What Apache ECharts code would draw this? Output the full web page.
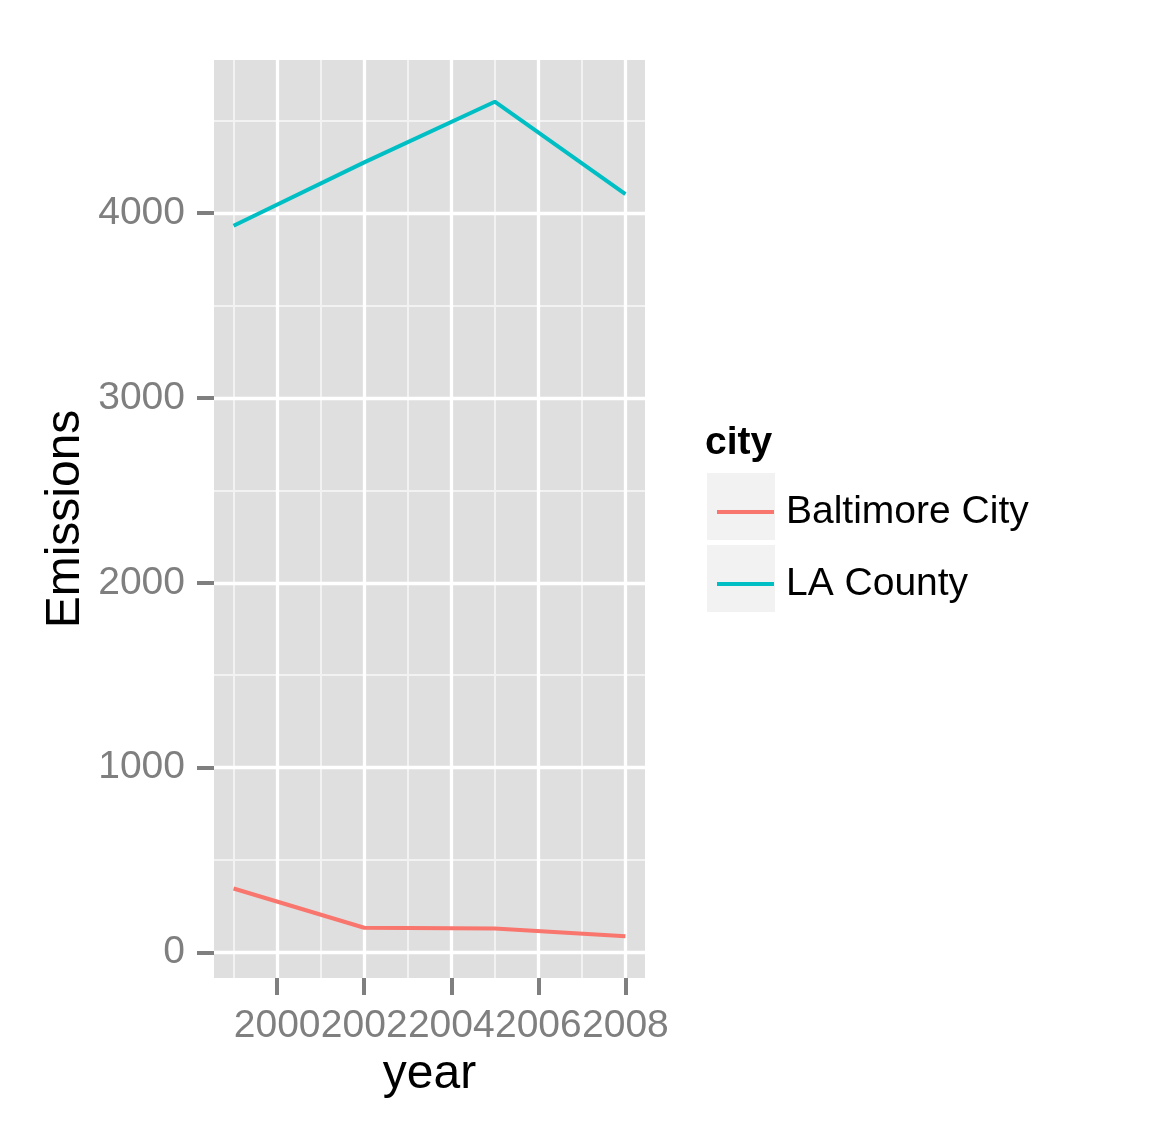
<!DOCTYPE html>
<html>
<head>
<meta charset="utf-8">
<script src="https://cdn.jsdelivr.net/npm/echarts@6/dist/echarts.min.js"></script>
<style>
html,body{margin:0;padding:0;background:#fff;}
#c{width:1154px;height:1133px;}
</style>
</head>
<body>
<div id="c"></div>
<script>
const years = [1999, 2002, 2005, 2008];
const baltimore = [346.82, 134.31, 130.43, 88.28];
const laCounty = [3931.12, 4273.71, 4601.41, 4101.32];
const cityNames = ['Baltimore City', 'LA County'];
const xMajorTicks = [2000, 2002, 2004, 2006, 2008];
const xMinorTicks = [1999, 2001, 2003, 2005, 2007];
const yMajorTicks = [0, 1000, 2000, 3000, 4000];
const yMinorTicks = [500, 1500, 2500, 3500, 4500];

const FONT = '"Liberation Sans", Arial, Helvetica, sans-serif';
const xMin = 1998.55, xMax = 2008.45;
const yMin = -137.4, yMax = 4827.1;

const chart = echarts.init(document.getElementById('c'), null, {renderer: 'canvas'});

function minorAxis(vals, isX) {
  return {
    type: 'value', min: isX ? xMin : yMin, max: isX ? xMax : yMax,
    position: isX ? 'bottom' : 'left',
    axisLine: {show: false, onZero: false},
    axisTick: {show: false, customValues: vals},
    axisLabel: {show: false, customValues: vals},
    splitLine: {show: true, lineStyle: {color: '#F2F2F2', width: 2}}
  };
}

const plain = v => String(v);

const option = {
  animation: false,
  backgroundColor: '#ffffff',
  title: {
    text: 'city', left: 700, top: 419,
    textStyle: {fontFamily: FONT, fontSize: 39, fontWeight: 'bold', color: '#000'}
  },
  graphic: [
    {type: 'rect', left: 707, top: 473, shape: {width: 68, height: 67}, style: {fill: '#F2F2F2'}, z: -1},
    {type: 'rect', left: 707, top: 545, shape: {width: 68, height: 67}, style: {fill: '#F2F2F2'}, z: -1}
  ],
  legend: {
    orient: 'vertical', left: 712, top: 487,
    icon: 'rect', itemWidth: 57, itemHeight: 4, itemGap: 32,
    textStyle: {fontFamily: FONT, fontSize: 39, color: '#000', lineHeight: 40, padding: [0, 0, 0, 7]},
    data: cityNames
  },
  grid: {left: 214, top: 60, width: 431, height: 918, containLabel: false, outerBoundsMode: 'none',
    show: true, backgroundColor: '#DFDFDF', borderWidth: 0},
  xAxis: [
    {
      type: 'value', min: xMin, max: xMax, position: 'bottom',
      name: 'year', nameLocation: 'middle', nameGap: 66,
      nameTextStyle: {fontFamily: FONT, fontSize: 48, color: '#000'},
      axisLine: {show: false, onZero: false},
      axisTick: {show: true, length: 17, customValues: xMajorTicks, lineStyle: {color: '#7F7F7F', width: 4}},
      axisLabel: {show: true, margin: 29, customValues: xMajorTicks, formatter: plain,
        showMinLabel: true, showMaxLabel: true, hideOverlap: false,
        fontFamily: FONT, fontSize: 39, color: '#7F7F7F'},
      splitLine: {show: true, lineStyle: {color: '#FFFFFF', width: 3.3}},
      z: 2
    },
    minorAxis(xMinorTicks, true)
  ],
  yAxis: [
    {
      type: 'value', min: yMin, max: yMax, position: 'left',
      name: 'Emissions', nameLocation: 'middle', nameGap: 124, nameRotate: 90,
      nameTextStyle: {fontFamily: FONT, fontSize: 48, color: '#000'},
      axisLine: {show: false, onZero: false},
      axisTick: {show: true, length: 17, customValues: yMajorTicks, lineStyle: {color: '#7F7F7F', width: 4}},
      axisLabel: {show: true, margin: 29, customValues: yMajorTicks, formatter: plain,
        showMinLabel: true, showMaxLabel: true,
        fontFamily: FONT, fontSize: 39, color: '#7F7F7F'},
      splitLine: {show: true, lineStyle: {color: '#FFFFFF', width: 3.3}},
      z: 2
    },
    minorAxis(yMinorTicks, false)
  ],
  series: [
    {
      name: cityNames[0], type: 'line', xAxisIndex: 0, yAxisIndex: 0,
      data: years.map((y, i) => [y, baltimore[i]]),
      showSymbol: false, color: '#F8766D',
      lineStyle: {color: '#F8766D', width: 4}, z: 5
    },
    {
      name: cityNames[1], type: 'line', xAxisIndex: 0, yAxisIndex: 0,
      data: years.map((y, i) => [y, laCounty[i]]),
      showSymbol: false, color: '#00BFC4',
      lineStyle: {color: '#00BFC4', width: 4}, z: 5
    }
  ]
};
chart.setOption(option);
</script>
</body>
</html>
